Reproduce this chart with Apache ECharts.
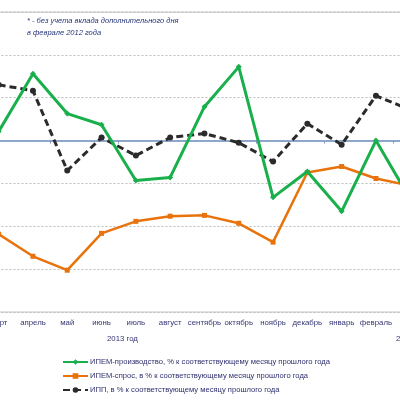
<!DOCTYPE html>
<html>
<head>
<meta charset="utf-8">
<script src="https://cdn.jsdelivr.net/npm/echarts@6/dist/echarts.min.js"></script>
<style>html,body{margin:0;padding:0;background:#fff}#c{width:400px;height:400px}</style>
</head>
<body>
<div id="c"></div>
<script>
const categories = ['март','апрель','май','июнь','июль','август','сентябрь','октябрь','ноябрь','декабрь','январь','февраль','март'];
const ipemProd = [100.42,103.12,101.26,100.74,98.14,98.28,101.58,103.44,97.35,98.56,96.7,100.0,97.26];
const ipemDemand = [95.63,94.6,93.95,95.67,96.23,96.47,96.51,96.14,95.26,98.51,98.79,98.23,97.9];
const ipp = [102.6,102.33,98.6,100.14,99.3,100.14,100.33,99.9,99.02,100.79,99.81,102.09,101.44];
const seriesNames = ['ИПЕМ-производство, % к соответствующему месяцу прошлого года','ИПЕМ-спрос, в % к соответствующему месяцу прошлого года','ИПП, в % к соответствующему месяцу прошлого года'];
const baseLevel = 100;

const font = "'Liberation Sans',Arial,sans-serif";
const dev = a => a.map(v => +(v - baseLevel).toFixed(2));
const chart = echarts.init(document.getElementById('c'));
chart.setOption({
  animation: false,
  grid: { left: -18.5, right: -27.4, top: 12, bottom: 88, show: true, borderColor: '#c4c4c4', borderWidth: 1,
    containLabel: false, outerBoundsMode: 'none' },
  xAxis: [
    { type: 'category', data: categories, position: 'top', boundaryGap: true,
      axisLine: { onZero: true, lineStyle: { color: '#8ea6c9', width: 2 } },
      axisTick: { show: true, length: 3, inside: true, lineStyle: { color: '#7f99c0' } },
      axisLabel: { show: false }, splitLine: { show: false } },
    { type: 'category', data: categories, position: 'bottom', boundaryGap: true,
      axisLine: { show: false, onZero: false }, axisTick: { show: false },
      axisLabel: { color: '#353575', fontSize: 7.8, fontFamily: font, margin: 7, interval: 0 } }
  ],
  yAxis: { type: 'value', min: -8, max: 6, interval: 2,
    axisLabel: { show: false }, axisLine: { show: false }, axisTick: { show: false },
    splitLine: { lineStyle: { color: '#bdbdbd', type: [2, 2] } } },
  legend: { orient: 'vertical', left: 62, top: 358, itemWidth: 25, itemHeight: 7, itemGap: 6,
    padding: 0, height: 60,
    textStyle: { color: '#2e2e6e', fontSize: 7.6, fontFamily: font, padding: [0,0,0,-3] },
    data: seriesNames },
  graphic: [
    { type: 'text', left: 27, top: 17, style: { text: '* - без учета вклада дополнительного дня', fill: '#26357a', font: 'italic 7.5px ' + font } },
    { type: 'text', left: 27, top: 29, style: { text: 'в феврале 2012 года', fill: '#26357a', font: 'italic 7.5px ' + font } },
    { type: 'text', left: 107, top: 335, style: { text: '2013 год', fill: '#353575', font: '7.8px ' + font } },
    { type: 'text', left: 396, top: 335, style: { text: '2014 год', fill: '#353575', font: '7.8px ' + font } }
  ],
  series: [
    { name: seriesNames[2], type: 'line', data: dev(ipp), symbol: 'circle', symbolSize: 6, z: 2,
      lineStyle: { color: '#2b2b2b', width: 3, type: [7, 4] }, itemStyle: { color: '#2b2b2b' } },
    { name: seriesNames[1], type: 'line', data: dev(ipemDemand), symbol: 'rect', symbolSize: 5, z: 3,
      lineStyle: { color: '#e8730c', width: 2.5 }, itemStyle: { color: '#e8730c' } },
    { name: seriesNames[0], type: 'line', data: dev(ipemProd), symbol: 'diamond', symbolSize: 6, z: 4,
      lineStyle: { color: '#19b04b', width: 3 }, itemStyle: { color: '#19b04b' } }
  ]
});
</script>
</body>
</html>
